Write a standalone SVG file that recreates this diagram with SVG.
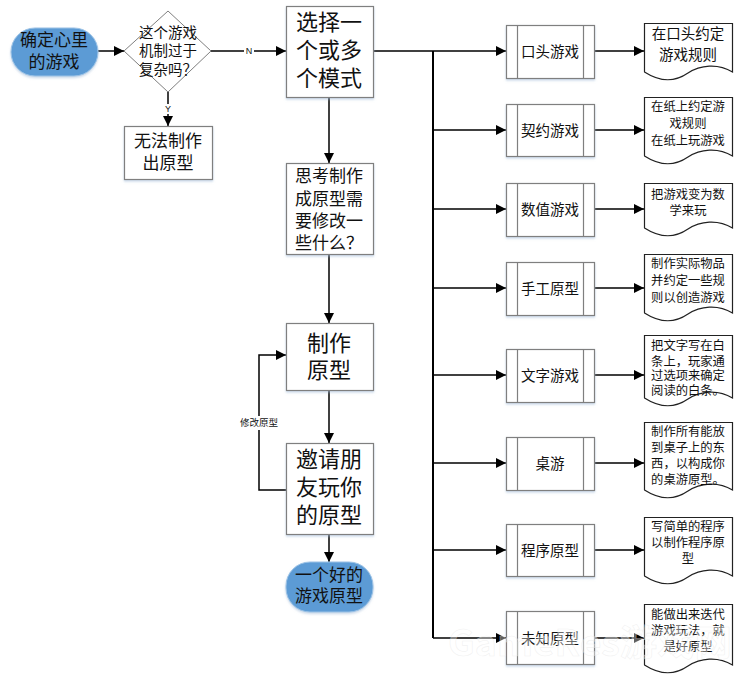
<svg xmlns="http://www.w3.org/2000/svg" width="753" height="676" viewBox="0 0 753 676">
<style>
text{font-family:"Noto Sans CJK SC","Liberation Sans",sans-serif;fill:#111;text-anchor:middle}
.s{fill:#fff;stroke:#7f7f7f;stroke-width:1.2}
.b{fill:#fff;stroke:#7f7f7f;stroke-width:1.2;filter:url(#sh)}
.d{fill:#fff;stroke:#222;stroke-width:1.2}
.t{fill:#5b9bd5;stroke:#9dc3e6;stroke-width:1;filter:url(#sh)}
.c{fill:none;stroke:#000;stroke-width:1.5;marker-end:url(#a)}
.n{fill:none;stroke:#000;stroke-width:2}
.f22{font-size:22px}.f17{font-size:17px}.f14{font-size:14.500px}.f12{font-size:12.300px}
.lab{font-size:9px;font-family:"Liberation Sans",sans-serif}
</style>
<defs>
<marker id="a" markerUnits="userSpaceOnUse" markerWidth="11" markerHeight="12" refX="10" refY="6" orient="auto"><path d="M0 1L10 6L0 11Z" fill="#000"/></marker>
<filter id="sh" x="-10%" y="-10%" width="120%" height="125%"><feDropShadow dx="0" dy="1.500" stdDeviation="1.200" flood-color="#9db7d5" flood-opacity=".55"/></filter>
</defs>
<rect width="753" height="676" fill="#fff"/>
<g id="connectors">
<path class="c" d="M98 51H124"/>
<path class="c" d="M211 51H286"/>
<path class="c" d="M168 92V126"/>
<path class="c" d="M329 97V163"/>
<path class="c" d="M329 254V323"/>
<path class="c" d="M329 390V443"/>
<path class="c" d="M329 534V562"/>
<path class="c" d="M286 490H259V355H286"/>
<path class="c" d="M373 51H506"/>
<path class="n" d="M433 51V638"/>
<path class="c" d="M433 130H506"/>
<path class="c" d="M433 209H506"/>
<path class="c" d="M433 288H506"/>
<path class="c" d="M433 375H506"/>
<path class="c" d="M433 463H506"/>
<path class="c" d="M433 550H506"/>
<path class="c" d="M433 638H506"/>
<path class="c" d="M594 51H644"/>
<path class="c" d="M594 130H644"/>
<path class="c" d="M594 209H644"/>
<path class="c" d="M594 288H644"/>
<path class="c" d="M594 375H644"/>
<path class="c" d="M594 463H644"/>
<path class="c" d="M594 550H644"/>
<path class="c" d="M594 638H644"/>
<rect x="244" y="46" width="10" height="10" fill="#fff"/>
<text x="249" y="54" class="lab">N</text>
<rect x="163" y="104" width="10" height="10" fill="#fff"/>
<text x="168" y="112" class="lab">Y</text>
<rect x="236" y="416" width="46" height="14" fill="#fff"/>
<text x="259" y="426" style="font-size:9.500px">修改原型</text>
</g>
<g id="start"><rect class="t" x="11" y="28" width="87" height="48" rx="24"/><text class="f17" x="54" y="46">确定心里</text><text class="f17" x="54" y="68">的游戏</text></g>
<g id="decision"><path d="M168 11L211 51L168 92L124 51Z" fill="#fff" stroke="#7f7f7f" stroke-width="1"/><text class="f14" x="168" y="38">这个游戏</text><text class="f14" x="168" y="56">机制过于</text><text class="f14" x="168" y="75">复杂吗？</text></g>
<g id="noproto"><rect class="b" x="124.500" y="126.500" width="88" height="53"/><text class="f17" x="168" y="147">无法制作</text><text class="f17" x="168" y="169">出原型</text></g>
<g id="choose"><rect class="b" x="286.500" y="6.500" width="87" height="91"/><text class="f22" x="329" y="30">选择一</text><text class="f22" x="329" y="58">个或多</text><text class="f22" x="329" y="86">个模式</text></g>
<g id="think"><rect class="b" x="286.500" y="163.500" width="87" height="91"/><text class="f17" x="329" y="182">思考制作</text><text class="f17" x="329" y="205">成原型需</text><text class="f17" x="329" y="227">要修改一</text><text class="f17" x="329" y="249">些什么？</text></g>
<g id="make"><rect class="b" x="286.500" y="323.500" width="87" height="67"/><text class="f22" x="329" y="351">制作</text><text class="f22" x="329" y="378">原型</text></g>
<g id="invite"><rect class="b" x="286.500" y="443.500" width="87" height="91"/><text class="f22" x="329" y="467">邀请朋</text><text class="f22" x="329" y="495">友玩你</text><text class="f22" x="329" y="523">的原型</text></g>
<g id="end"><rect class="t" x="286" y="562" width="87" height="50" rx="24"/><text class="f17" x="329" y="581">一个好的</text><text class="f17" x="329" y="602">游戏原型</text></g>
<g id="p1"><rect class="b" x="506.500" y="25.500" width="88" height="53"/><path class="s" d="M517.500 25.500V78.500M583.500 25.500V78.500"/><text class="f14" x="550" y="57">口头游戏</text></g>
<g id="p2"><rect class="b" x="506.500" y="104.500" width="88" height="52"/><path class="s" d="M517.500 104.500V156.500M583.500 104.500V156.500"/><text class="f14" x="550" y="135.500">契约游戏</text></g>
<g id="p3"><rect class="b" x="506.500" y="183.500" width="88" height="53"/><path class="s" d="M517.500 183.500V236.500M583.500 183.500V236.500"/><text class="f14" x="550" y="214.500">数值游戏</text></g>
<g id="p4"><rect class="b" x="506.500" y="262.500" width="88" height="53"/><path class="s" d="M517.500 262.500V315.500M583.500 262.500V315.500"/><text class="f14" x="550" y="293.500">手工原型</text></g>
<g id="p5"><rect class="b" x="506.500" y="349.500" width="88" height="53"/><path class="s" d="M517.500 349.500V402.500M583.500 349.500V402.500"/><text class="f14" x="550" y="380.500">文字游戏</text></g>
<g id="p6"><rect class="b" x="506.500" y="437.500" width="88" height="53"/><path class="s" d="M517.500 437.500V490.500M583.500 437.500V490.500"/><text class="f14" x="550" y="468.500">桌游</text></g>
<g id="p7"><rect class="b" x="506.500" y="524.500" width="88" height="52"/><path class="s" d="M517.500 524.500V576.500M583.500 524.500V576.500"/><text class="f14" x="550" y="555.500">程序原型</text></g>
<g id="p8"><rect class="b" x="506.500" y="611.500" width="88" height="53"/><path class="s" d="M517.500 611.500V664.500M583.500 611.500V664.500"/><text class="f14" x="550" y="643.500">未知原型</text></g>
<g id="d1"><path class="d" d="M644.500 23.500H732.500V72c-14.500-9-32.500-7-44.500 1c-13 9-28 9-43.500-1Z"/><text class="f14" x="688" y="39">在口头约定</text><text class="f14" x="688" y="60">游戏规则</text></g>
<g id="d2"><path class="d" d="M644.500 97.500H732.500V156c-14.500-9-32.500-7-44.500 1c-13 9-28 9-43.500-1Z"/><text class="f12" x="688" y="111">在纸上约定游</text><text class="f12" x="688" y="128">戏规则</text><text class="f12" x="688" y="145">在纸上玩游戏</text></g>
<g id="d3"><path class="d" d="M644.500 183.500H732.500V228c-14.500-9-32.500-7-44.500 1c-13 9-28 9-43.500-1Z"/><text class="f12" x="688" y="199">把游戏变为数</text><text class="f12" x="688" y="215">学来玩</text></g>
<g id="d4"><path class="d" d="M644.500 254.500H732.500V313c-14.500-9-32.500-7-44.500 1c-13 9-28 9-43.500-1Z"/><text class="f12" x="688" y="268">制作实际物品</text><text class="f12" x="688" y="285">并约定一些规</text><text class="f12" x="688" y="302">则以创造游戏</text></g>
<g id="d5"><path class="d" d="M644.500 335.500H732.500V398c-14.500-9-32.500-7-44.500 1c-13 9-28 9-43.500-1Z"/><text class="f12" x="688" y="350">把文字写在白</text><text class="f12" x="688" y="365.500">条上，玩家通</text><text class="f12" x="688" y="380">过选项来确定</text><text class="f12" x="688" y="394.500">阅读的白条。</text></g>
<g id="d6"><path class="d" d="M644.500 422.500H732.500V490c-14.500-9-32.500-7-44.500 1c-13 9-28 9-43.500-1Z"/><text class="f12" x="688" y="436">制作所有能放</text><text class="f12" x="688" y="452">到桌子上的东</text><text class="f12" x="688" y="468">西，以构成你</text><text class="f12" x="688" y="484">的桌游原型。</text></g>
<g id="d7"><path class="d" d="M644.500 517.500H732.500V576c-14.500-9-32.500-7-44.500 1c-13 9-28 9-43.500-1Z"/><text class="f12" x="688" y="531">写简单的程序</text><text class="f12" x="688" y="547">以制作程序原</text><text class="f12" x="688" y="563">型</text></g>
<g id="d8"><path class="d" d="M644.500 604.500H732.500V665c-14.500-9-32.500-7-44.500 1c-13 9-28 9-43.500-1Z"/><text class="f12" x="688" y="618.500">能做出来迭代</text><text class="f12" x="688" y="635">游戏玩法，就</text><text class="f12" x="688" y="651">是好原型</text></g>
<text x="590" y="656" textLength="284" lengthAdjust="spacingAndGlyphs" style="font-size:36px;font-weight:bold;fill:#fff;fill-opacity:.4;stroke:#e2e2e2;stroke-width:.6;stroke-opacity:.45">GameRes游戏网</text>
</svg>
